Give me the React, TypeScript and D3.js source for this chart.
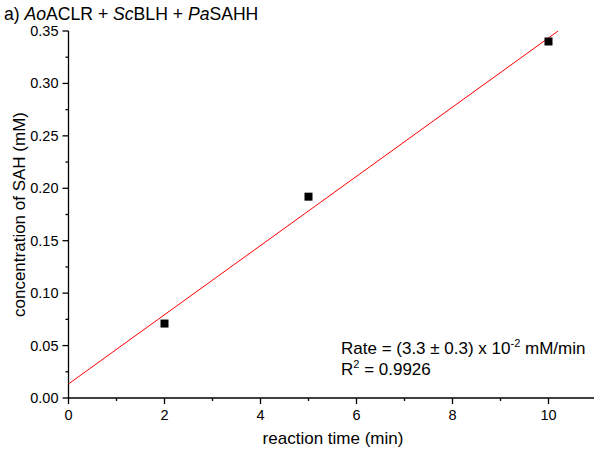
import React from "react";
import * as d3 from "d3";

const times = [2, 5, 10];
const conc = [0.071, 0.192, 0.34];
const fitSlope = 0.033;
const fitIntercept = 0.0134;
const fitRange = [0, 10.2];
const xTicks = [0, 2, 4, 6, 8, 10];
const xMinor = [1, 3, 5, 7, 9, 11];
const yTicks = [0, 0.05, 0.1, 0.15, 0.2, 0.25, 0.3, 0.35];
const yMinor = [0.025, 0.075, 0.125, 0.175, 0.225, 0.275, 0.325];

export default function App() {
  const W = 594, H = 452;
  const x = d3.scaleLinear().domain([0, 11]).range([68.5, 596.5]);
  const y = d3.scaleLinear().domain([0, 0.35]).range([398, 31]);
  const font = "'Liberation Sans', Arial, sans-serif";
  const line = d3.line<number>().x((d) => x(d)).y((d) => y(fitSlope * d + fitIntercept));
  return (
    <svg width={W} height={H} style={{ position: "absolute", left: 0, top: 0 }} fontFamily={font}>
      <rect width={W} height={H} fill="#fff" />
      <text x={4} y={20} fontSize={17.6}>
        a) <tspan fontStyle="italic">Ao</tspan>ACLR + <tspan fontStyle="italic">Sc</tspan>BLH + <tspan fontStyle="italic">Pa</tspan>SAHH
      </text>
      {/* axes */}
      <line x1={x(0)} x2={x(11)} y1={398} y2={398} stroke="#000" strokeWidth={1.3} />
      <line x1={x(0)} x2={x(0)} y1={y(0)} y2={y(0.35)} stroke="#000" strokeWidth={1.3} />
      {xTicks.map((t) => (
        <g key={"xt" + t}>
          <line x1={x(t)} x2={x(t)} y1={398} y2={404} stroke="#000" strokeWidth={1.3} />
          <text x={x(t)} y={420} fontSize={14.5} textAnchor="middle">{t}</text>
        </g>
      ))}
      {xMinor.map((t) => (
        <line key={"xm" + t} x1={x(t)} x2={x(t)} y1={398} y2={401} stroke="#000" strokeWidth={1.3} />
      ))}
      {yTicks.map((t) => (
        <g key={"yt" + t}>
          <line x1={x(0) - 6} x2={x(0)} y1={y(t)} y2={y(t)} stroke="#000" strokeWidth={1.3} />
          <text x={x(0) - 10} y={y(t) + 5} fontSize={14.5} textAnchor="end">{t.toFixed(2)}</text>
        </g>
      ))}
      {yMinor.map((t) => (
        <line key={"ym" + t} x1={x(0) - 3} x2={x(0)} y1={y(t)} y2={y(t)} stroke="#000" strokeWidth={1.3} />
      ))}
      <text x={333} y={444} fontSize={17} textAnchor="middle">reaction time (min)</text>
      <text transform={`translate(25,${y(0.175)}) rotate(-90)`} fontSize={17} textAnchor="middle">
        concentration of SAH (mM)
      </text>
      <path d={line(fitRange) || ""} stroke="#ff0000" strokeWidth={1} fill="none" />
      {times.map((t, i) => (
        <rect key={"p" + i} x={x(t) - 4} y={y(conc[i]) - 4} width={8} height={8} fill="#000" />
      ))}
      <text x={341} y={354} fontSize={17}>
        Rate = (3.3 ± 0.3) x 10<tspan dy={-7} fontSize={11}>-2</tspan><tspan dy={7}> mM/min</tspan>
      </text>
      <text x={341} y={375} fontSize={17}>
        R<tspan dy={-7} fontSize={11}>2</tspan><tspan dy={7}> = 0.9926</tspan>
      </text>
    </svg>
  );
}
